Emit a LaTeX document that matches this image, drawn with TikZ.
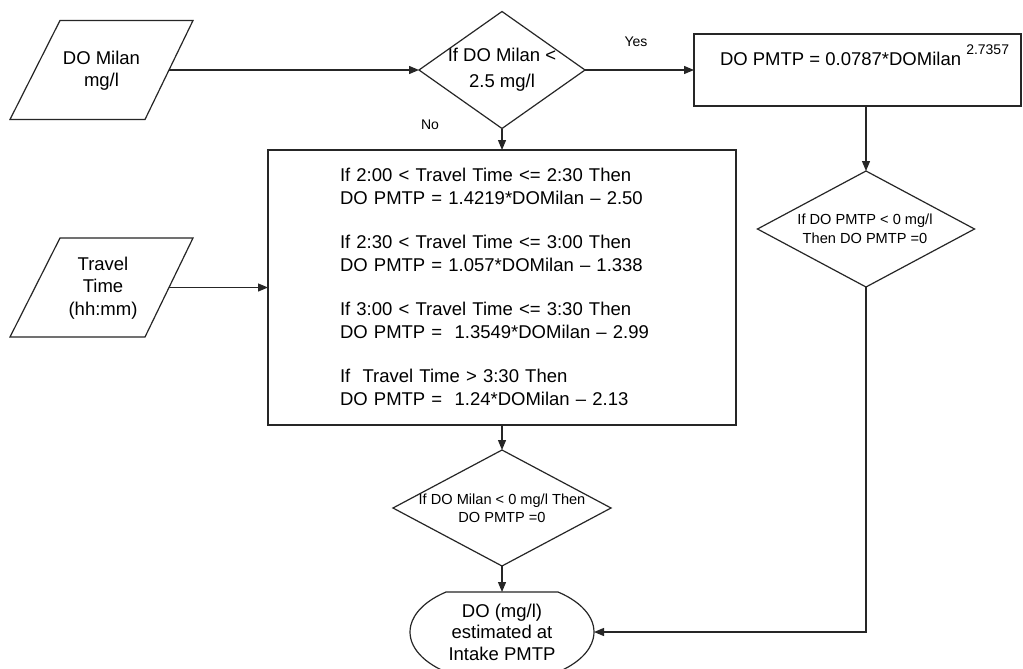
\documentclass[tikz,border=0pt]{standalone}
\usepackage{fontspec}
\setmainfont{Liberation Sans}
\usetikzlibrary{arrows.meta,shapes.geometric,calc}
\begin{document}
\begin{tikzpicture}[x=1pt,y=-1pt,
  every node/.style={inner sep=0pt, outer sep=0pt},
  ln/.style={line width=1.2pt, draw=black!85},
  arr/.style={line width=1.2pt, draw=black!85, -{Triangle[length=10pt,width=8pt]}},
  dia/.style={ln, shape=diamond},
  boxn/.style={ln, shape=rectangle},
  big/.style={font=\fontsize{18.5}{22.5}\selectfont, align=center},
  small/.style={font=\fontsize{14.6}{18.8}\selectfont, align=center},
  lab/.style={font=\fontsize{14}{16}\selectfont}
]
\useasboundingbox (0,0) rectangle (1023,669);
\fill[white] (0,0) rectangle (1023,669);

% inputs (parallelograms)
\draw[ln] (60,20.5) -- (193,20.5) -- (145,119.5) -- (10,119.5) -- cycle;
\coordinate (p1) at (169,70);
\node[big, font=\fontsize{18.5}{22}\selectfont] (p1t) at (101.5,71) {DO Milan\\mg/l};
\draw[ln] (60,238) -- (193,238) -- (145,337) -- (10,337) -- cycle;
\coordinate (p2) at (169,287.5);
\node[big, font=\fontsize{18.5}{22.5}\selectfont] (p2t) at (103,288) {Travel\\Time\\(hh:mm)};

% decision 1
\node[dia, minimum width=166pt, minimum height=117pt] (d1) at (502,70) {};
\node[big, font=\fontsize{18.5}{26}\selectfont] (d1t) at (502,70) {If DO Milan <\\2.5 mg/l};

% yes box
\node[boxn, minimum width=327pt, minimum height=72pt] (b2) at (857.5,70) {};
\node[anchor=base west, font=\fontsize{18.5}{22}\selectfont] (b2t) at (720,66)
  {DO PMTP = 0.0787*DOMilan \raisebox{11pt}{\fontsize{14}{14}\selectfont 2.7357}};

% main box
\node[boxn, minimum width=468pt, minimum height=275pt] (b1) at (502,287.5) {};
\node[font=\fontsize{18.5}{23}\selectfont, align=left, text width=324pt] (b1t) at (502,287) {%
If 2:00 < Travel Time <= 2:30 Then\\
DO PMTP = 1.4219*DOMilan – 2.50\\[21pt]
If 2:30 < Travel Time <= 3:00 Then\\
DO PMTP = 1.057*DOMilan – 1.338\\[21pt]
If 3:00 < Travel Time <= 3:30 Then\\
DO PMTP = \ 1.3549*DOMilan – 2.99\\[21pt]
If \ Travel Time > 3:30 Then\\
DO PMTP = \ 1.24*DOMilan – 2.13};

% decision 2
\node[dia, minimum width=217pt, minimum height=116pt] (d2) at (866,229) {};
\node[small] (d2t) at (865,228.5) {If DO PMTP < 0 mg/l\\Then DO PMTP =0};

% decision 3
\node[dia, minimum width=218pt, minimum height=116pt] (d3) at (502,508) {};
\node[small, font=\fontsize{14.6}{18}\selectfont] (d3t) at (502,508) {If DO Milan < 0 mg/l Then\\DO PMTP =0};

% terminal
\node[minimum width=184pt, minimum height=80pt, big, font=\fontsize{18.5}{21.5}\selectfont] (term) at (502,632)
  {DO (mg/l)\\estimated at\\Intake PMTP};
\draw[ln] (558,592) arc[start angle=-52.5, end angle=52.5, x radius=92, y radius=50.4]
  -- (446,672) arc[start angle=127.5, end angle=232.5, x radius=92, y radius=50.4] -- cycle;

% labels
\node[lab] (yes) at (636,42) {Yes};
\node[lab] (no) at (430,125) {No};

% connectors
\draw[arr] (p1) -- (d1.west);
\draw[arr] (d1.east) -- (b2.west);
\draw[arr] (d1.south) -- (b1.north);
\draw[arr] (p2) -- (b1.west);
\draw[arr] (d2.north |- b2.south) -- (d2.north);
\draw[arr] (b1.south) -- (d3.north);
\draw[arr] (d3.south) -- (term.north);
\draw[arr] (d2.south) |- (term.east);
\end{tikzpicture}
\end{document}
